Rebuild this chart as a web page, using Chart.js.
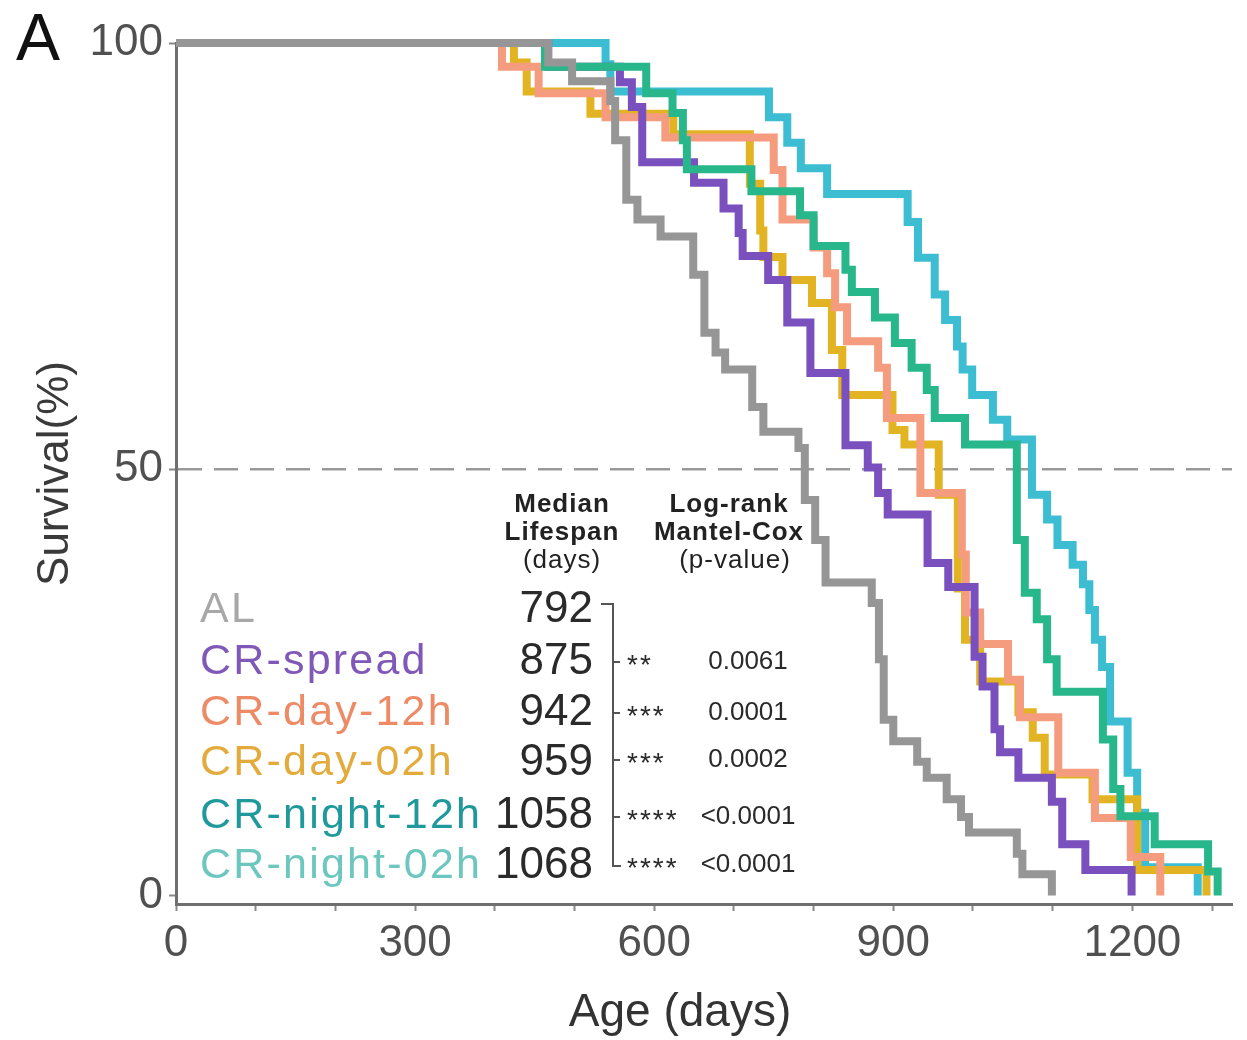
<!DOCTYPE html>
<html>
<head>
<meta charset="utf-8">
<title>Survival by feeding regime</title>
<script src="https://cdn.jsdelivr.net/npm/chart.js@4.4.1/dist/chart.umd.min.js"></script>
<style>
  html, body { margin: 0; padding: 0; background: #fff; }
  #wrap { width: 1247px; height: 1040px; position: relative; }
</style>
</head>
<body>
<div id="wrap"><canvas id="survChart" width="1247" height="1040"></canvas></div>
<script>
const groups = ["AL", "CR-spread", "CR-day-12h", "CR-day-02h", "CR-night-12h", "CR-night-02h"];
const lineColors = ["#969696", "#7a4fbe", "#f59c7e", "#e2b424", "#27b78b", "#3cbdd1"];
const labelColors = ["#a8a8a8", "#8058b8", "#ec8b66", "#e3aa3c", "#1f999b", "#6cc7be"];
const layerOrder = [0, 2, 3, 4, 1, 5]; // 0 = drawn on top
const medianLifespan = ["792", "875", "942", "959", "1058", "1068"];
const stars = ["", "**", "***", "***", "****", "****"];
const pValues = ["", "0.0061", "0.0001", "0.0002", "<0.0001", "<0.0001"];

// Kaplan-Meier steps: day of each drop and survival (%) after it
const alDays = [0, 467, 497, 545, 551, 565, 579, 608, 649, 663, 677, 689, 723, 737, 781, 789, 802, 815, 873, 882, 888, 900, 930, 942, 967, 985, 995, 1055, 1062, 1099];
const alSurv = [100, 97.7, 95.5, 93.2, 88.6, 81.6, 79.3, 77.3, 72.8, 66.0, 63.7, 61.7, 57.3, 54.4, 52.5, 46.4, 41.7, 36.7, 34.3, 27.7, 20.6, 18.1, 15.7, 13.8, 11.3, 9.2, 7.4, 4.9, 2.5, 0];

const spreadDays = [0, 467, 557, 572, 585, 650, 687, 706, 711, 743, 767, 796, 840, 868, 881, 893, 943, 969, 1002, 1012, 1027, 1034, 1057, 1099, 1112, 1141, 1199];
const spreadSurv = [100, 97.2, 95.4, 92.5, 86.0, 83.6, 80.6, 77.7, 75.0, 72.2, 67.2, 61.3, 52.8, 50.2, 47.2, 44.7, 39.0, 36.2, 28.0, 24.5, 19.5, 16.8, 13.8, 11.0, 6.0, 3.0, 0];

const day12Days = [0, 409, 455, 539, 614, 750, 761, 800, 817, 827, 842, 881, 892, 934, 986, 991, 1009, 1044, 1059, 1107, 1153, 1198, 1235];
const day12Surv = [100, 97.2, 94.1, 91.3, 88.9, 85.1, 79.3, 76.0, 73.0, 69.0, 65.0, 61.9, 56.0, 47.2, 40.0, 33.2, 29.5, 25.3, 20.9, 14.4, 9.1, 4.5, 0];

const day02Days = [0, 424, 440, 520, 624, 720, 733, 737, 761, 798, 823, 836, 899, 914, 957, 981, 990, 1009, 1057, 1075, 1090, 1150, 1206, 1293];
const day02Surv = [100, 97.7, 94.3, 91.7, 89.3, 83.5, 78.0, 74.9, 72.2, 69.5, 64.0, 58.7, 54.6, 52.9, 47.0, 36.0, 30.0, 25.1, 21.5, 18.5, 14.2, 11.3, 3.0, 0];

const night12Days = [0, 463, 590, 623, 636, 641, 722, 783, 800, 840, 848, 877, 902, 923, 942, 952, 990, 1055, 1065, 1080, 1093, 1105, 1163, 1176, 1185, 1228, 1295, 1307];
const night12Surv = [100, 97.2, 94.1, 91.8, 88.6, 85.2, 82.6, 79.8, 76.2, 73.4, 70.8, 67.8, 64.8, 61.9, 59.3, 56.0, 52.9, 41.7, 35.5, 32.4, 27.7, 23.9, 18.3, 12.5, 9.3, 6.0, 2.8, 0];

const night02Days = [0, 539, 545, 744, 767, 784, 817, 918, 931, 952, 965, 980, 987, 999, 1025, 1043, 1074, 1093, 1106, 1125, 1138, 1146, 1153, 1162, 1172, 1194, 1206, 1216, 1282];
const night02Surv = [100, 97.5, 94.3, 91.3, 88.3, 85.3, 82.3, 79.0, 74.8, 70.5, 67.5, 64.4, 61.7, 58.7, 55.8, 53.5, 47.0, 44.1, 41.1, 38.8, 36.5, 33.5, 30.0, 26.8, 20.4, 14.4, 9.7, 3.3, 0];

const xTickValues = [0, 100, 200, 300, 400, 500, 600, 700, 800, 900, 1000, 1100, 1200, 1300];
const xTickLabels = [0, 300, 600, 900, 1200];
const yTickValues = [0, 50, 100];

const dayArrays = [alDays, spreadDays, day12Days, day02Days, night12Days, night02Days];
const survArrays = [alSurv, spreadSurv, day12Surv, day02Surv, night12Surv, night02Surv];

const FONT = "'Liberation Sans', Arial, Helvetica, sans-serif";

const toPoints = (days, surv) => days.map((d, i) => ({ x: d, y: surv[i] }));

const tablePlugin = {
    id: "tablePlugin",
    beforeDatasetsDraw(chart) {
        const { ctx, chartArea, scales } = chart;
        const y50 = scales.y.getPixelForValue(50);
        ctx.save();
        ctx.strokeStyle = "#9a9a9a";
        ctx.lineWidth = 2.5;
        ctx.setLineDash([24, 12]);
        ctx.beginPath();
        ctx.moveTo(chartArea.left + 2, y50);
        ctx.lineTo(chartArea.right, y50);
        ctx.stroke();
        ctx.restore();
    },
    afterDraw(chart) {
        const { ctx } = chart;
        ctx.save();

        // panel letter
        ctx.fillStyle = "#111";
        ctx.font = `66px ${FONT}`;
        ctx.textAlign = "left";
        ctx.textBaseline = "alphabetic";
        ctx.fillText("A", 16, 60);

        // x axis title
        ctx.fillStyle = "#333";
        ctx.font = `46px ${FONT}`;
        ctx.textAlign = "center";
        ctx.textBaseline = "middle";
        ctx.fillText("Age (days)", 680, 1013);

        // column headers
        ctx.fillStyle = "#222";
        ctx.letterSpacing = "1px";
        ctx.font = `bold 26px ${FONT}`;
        ctx.fillText("Median", 562, 505);
        ctx.fillText("Lifespan", 562, 533);
        ctx.fillText("Log-rank", 729, 505);
        ctx.fillText("Mantel-Cox", 729, 533);
        ctx.font = `26px ${FONT}`;
        ctx.fillText("(days)", 562, 561);
        ctx.fillText("(p-value)", 735, 561);
        ctx.letterSpacing = "0px";

        const rowY = [610, 662, 713, 763, 816, 866];
        const pY = [610, 662, 713, 760, 817, 865];

        groups.forEach((g, i) => {
            ctx.font = `43px ${FONT}`;
            ctx.letterSpacing = "2.2px";
            ctx.textAlign = "left";
            ctx.fillStyle = labelColors[i];
            ctx.fillText(g, 200, rowY[i]);
            ctx.letterSpacing = "0px";
            ctx.font = `44px ${FONT}`;
            ctx.textAlign = "right";
            ctx.fillStyle = "#2a2a2a";
            ctx.fillText(medianLifespan[i], 593, rowY[i]);
            if (i > 0) {
                ctx.textAlign = "left";
                ctx.textBaseline = "alphabetic";
                ctx.font = `28px ${FONT}`;
                ctx.letterSpacing = "2px";
                ctx.fillText(stars[i], 627, pY[i] + 12);
                ctx.letterSpacing = "0px";
                ctx.textBaseline = "middle";
                ctx.textAlign = "center";
                ctx.font = `26px ${FONT}`;
                ctx.fillText(pValues[i], 748, pY[i]);
            }
        });

        // comparison bracket
        ctx.strokeStyle = "#555";
        ctx.lineWidth = 2;
        ctx.beginPath();
        ctx.moveTo(601, 604);
        ctx.lineTo(613, 604);
        ctx.lineTo(613, 866);
        ctx.lineTo(621, 866);
        for (let i = 1; i < pY.length - 1; i++) {
            ctx.moveTo(613, pY[i]);
            ctx.lineTo(620, pY[i]);
        }
        ctx.stroke();
        ctx.restore();
    }
};

new Chart(document.getElementById("survChart"), {
    type: "line",
    data: {
        datasets: groups.map((g, i) => ({
            label: g,
            data: toPoints(dayArrays[i], survArrays[i]),
            order: layerOrder[i],
            borderColor: lineColors[i],
            backgroundColor: lineColors[i],
            borderWidth: 8,
            stepped: "before",
            pointRadius: 0,
            fill: false,
            clip: false,
            borderJoinStyle: "miter",
            borderCapStyle: "butt"
        }))
    },
    options: {
        responsive: false,
        devicePixelRatio: 1,
        animation: false,
        layout: { padding: { top: 43, right: 15, left: 0, bottom: 0 } },
        plugins: { legend: { display: false }, tooltip: { enabled: false } },
        scales: {
            x: {
                type: "linear",
                min: 0,
                max: 1325,
                border: { color: "#6f6f6f", width: 3 },
                grid: { drawOnChartArea: false, drawTicks: true, tickLength: 7, tickWidth: 2, color: "#888" },
                afterBuildTicks: scale => { scale.ticks = xTickValues.map(v => ({ value: v })); },
                ticks: {
                    autoSkip: false,
                    maxRotation: 0,
                    padding: 6,
                    color: "#505050",
                    font: { family: FONT, size: 44 },
                    callback: v => xTickLabels.includes(v) ? String(v) : ""
                },
                afterFit: scale => { scale.height = 136; }
            },
            y: {
                min: -1,
                max: 100,
                border: { color: "#6f6f6f", width: 3 },
                grid: { drawOnChartArea: false, drawTicks: true, tickLength: 7, tickWidth: 2, color: "#888" },
                afterBuildTicks: scale => { scale.ticks = yTickValues.map(v => ({ value: v })); },
                ticks: {
                    padding: 6,
                    color: "#505050",
                    font: { family: FONT, size: 44 }
                },
                title: {
                    display: true,
                    text: "Survival(%)",
                    color: "#3a3a3a",
                    font: { family: FONT, size: 44 },
                    padding: { top: 29 }
                },
                afterFit: scale => { scale.width = 176; }
            }
        }
    },
    plugins: [tablePlugin]
});
</script>
</body>
</html>
